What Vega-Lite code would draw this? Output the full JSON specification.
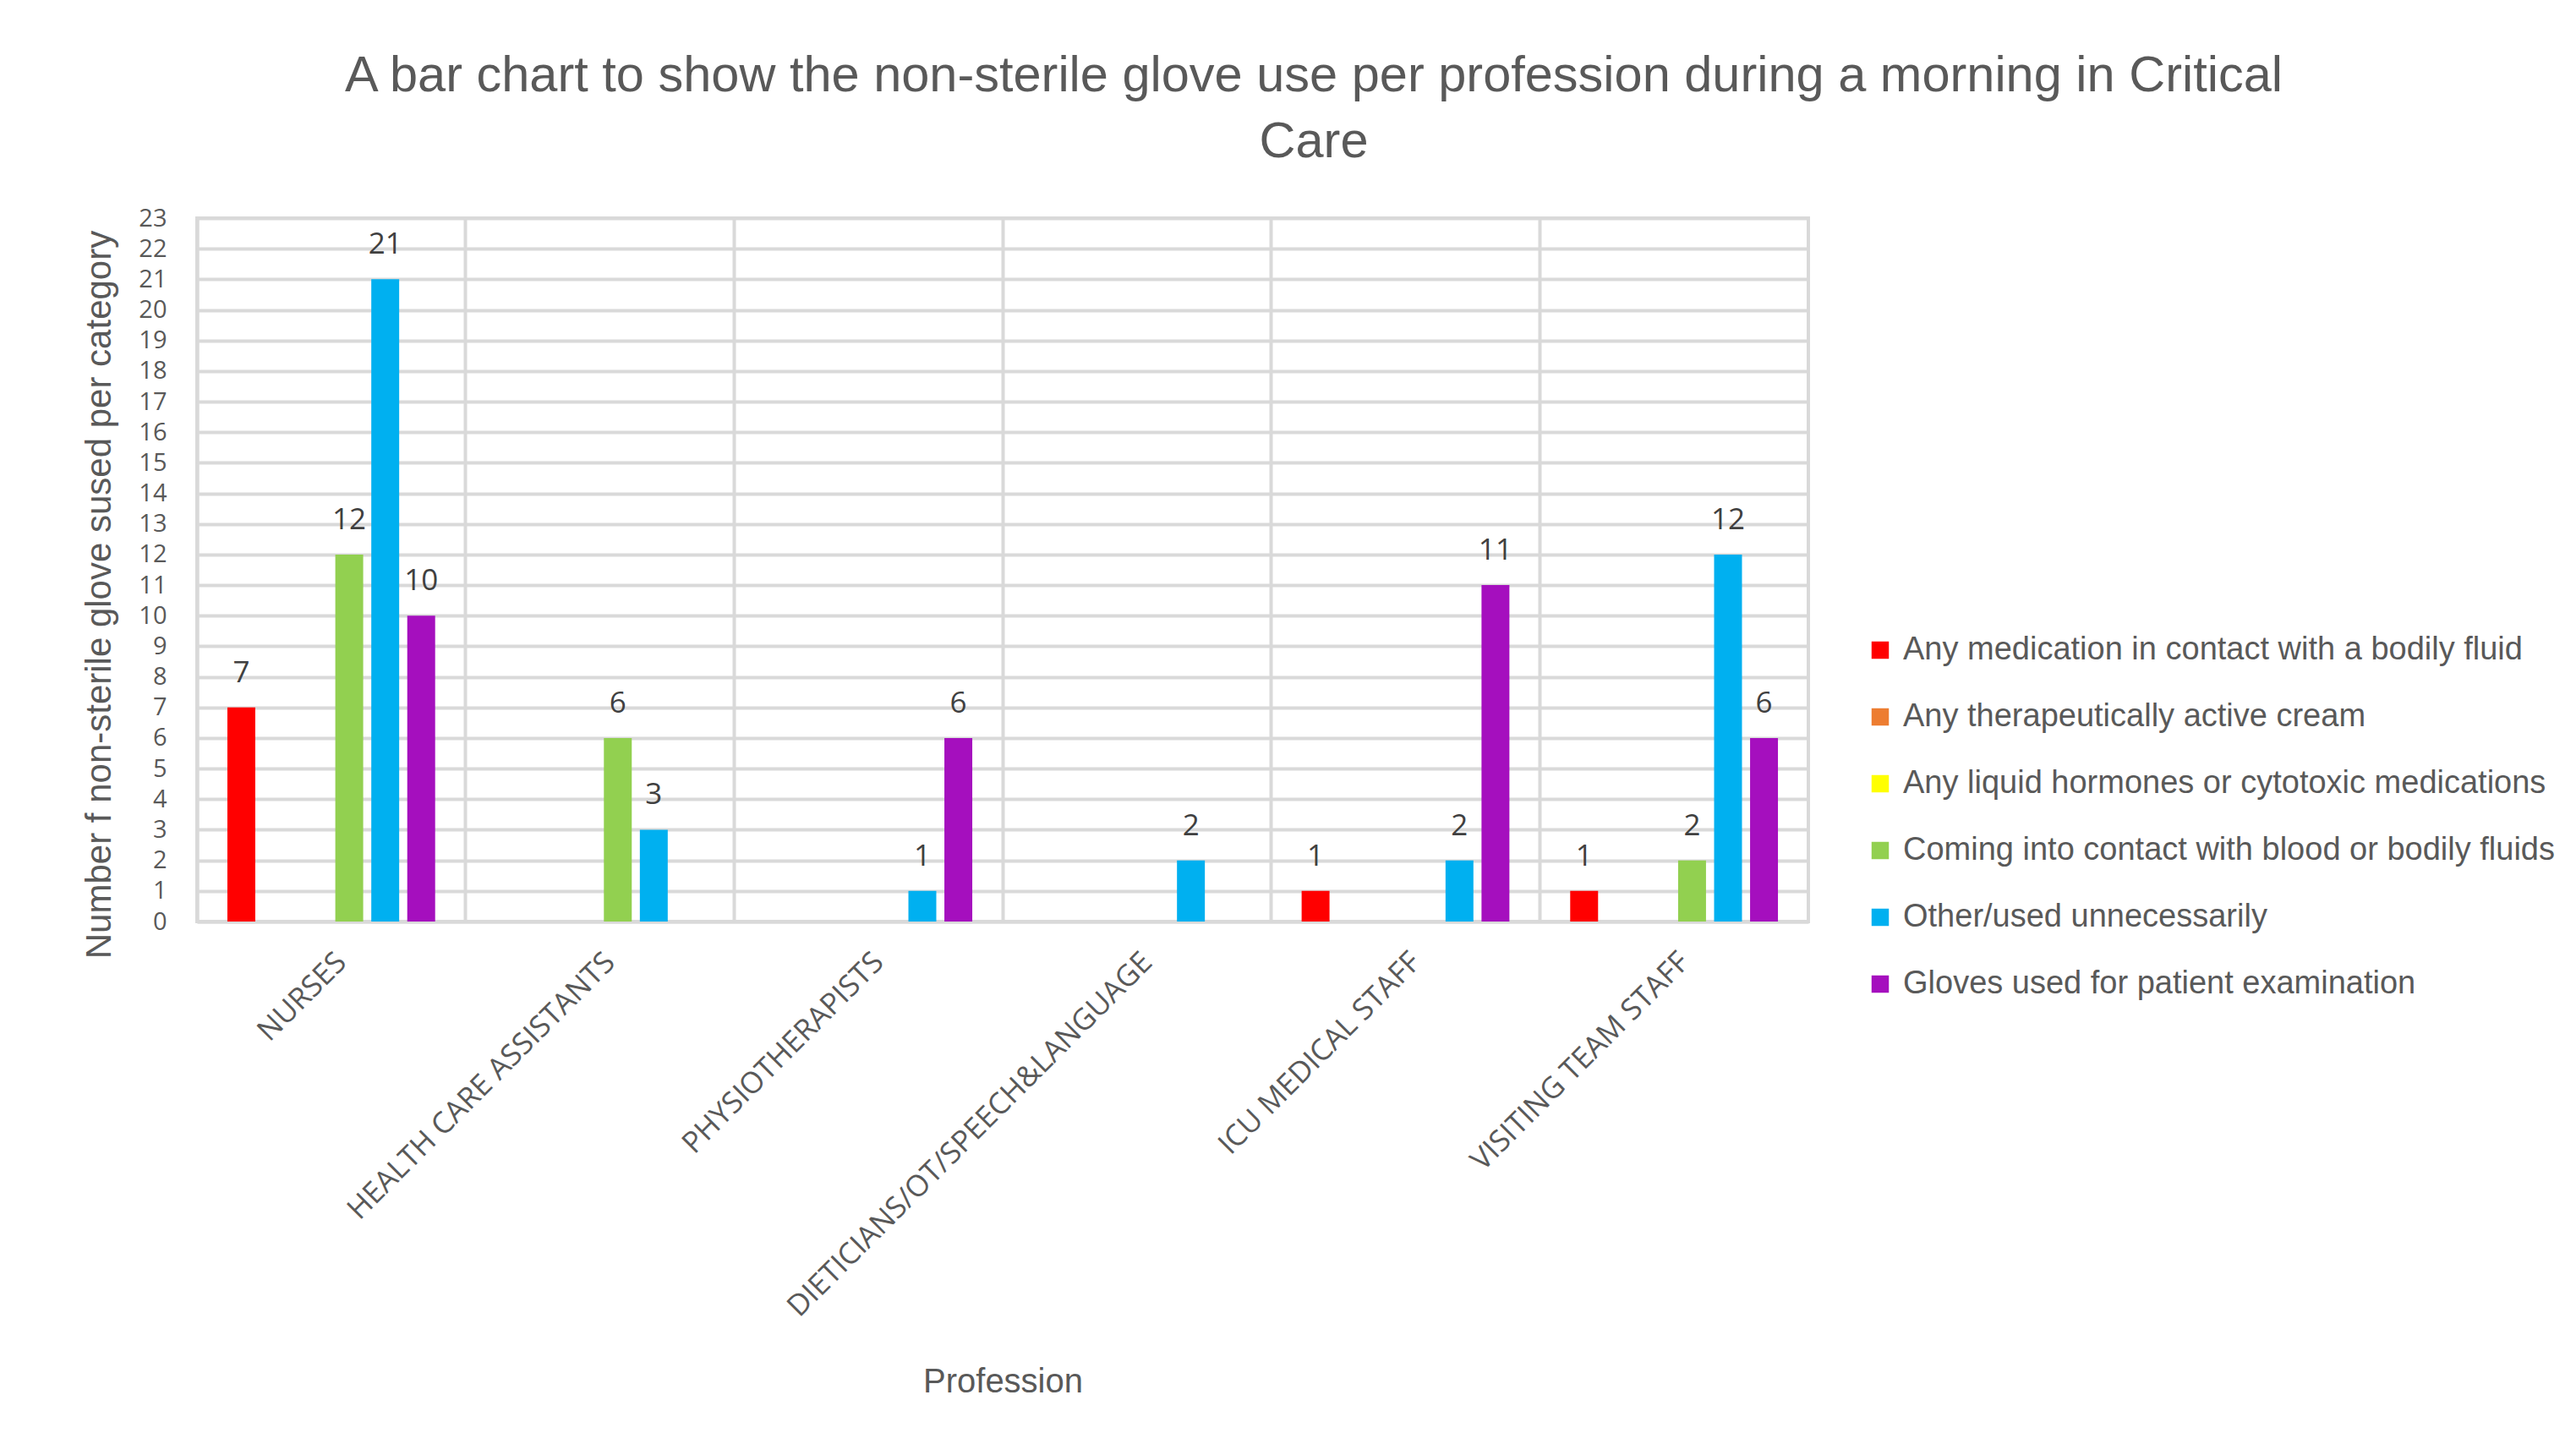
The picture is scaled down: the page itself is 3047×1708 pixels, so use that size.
{
  "$schema": "https://vega.github.io/schema/vega-lite/v6.json",
  "width": 1906,
  "height": 832,
  "autosize": {"type": "none"},
  "padding": {"left": 233, "top": 258, "right": 908, "bottom": 618},
  "background": "white",
  "title": {
    "text": ["A bar chart to show the non-sterile glove use per profession during a morning in Critical", "Care"],
    "anchor": "middle",
    "dx": 368,
    "fontSize": 59.5,
    "font": "Liberation Sans",
    "fontWeight": "normal",
    "color": "#595959",
    "offset": 46,
    "lineHeight": 78
  },
  "data": {
    "values": [
      {"profession": "NURSES", "category": "Any medication in contact with a bodily fluid", "value": 7},
      {"profession": "NURSES", "category": "Any therapeutically active cream", "value": 0},
      {"profession": "NURSES", "category": "Any liquid hormones or cytotoxic medications", "value": 0},
      {"profession": "NURSES", "category": "Coming into contact with blood or bodily fluids", "value": 12},
      {"profession": "NURSES", "category": "Other/used unnecessarily", "value": 21},
      {"profession": "NURSES", "category": "Gloves used for patient examination", "value": 10},
      {"profession": "HEALTH CARE ASSISTANTS", "category": "Any medication in contact with a bodily fluid", "value": 0},
      {"profession": "HEALTH CARE ASSISTANTS", "category": "Any therapeutically active cream", "value": 0},
      {"profession": "HEALTH CARE ASSISTANTS", "category": "Any liquid hormones or cytotoxic medications", "value": 0},
      {"profession": "HEALTH CARE ASSISTANTS", "category": "Coming into contact with blood or bodily fluids", "value": 6},
      {"profession": "HEALTH CARE ASSISTANTS", "category": "Other/used unnecessarily", "value": 3},
      {"profession": "HEALTH CARE ASSISTANTS", "category": "Gloves used for patient examination", "value": 0},
      {"profession": "PHYSIOTHERAPISTS", "category": "Any medication in contact with a bodily fluid", "value": 0},
      {"profession": "PHYSIOTHERAPISTS", "category": "Any therapeutically active cream", "value": 0},
      {"profession": "PHYSIOTHERAPISTS", "category": "Any liquid hormones or cytotoxic medications", "value": 0},
      {"profession": "PHYSIOTHERAPISTS", "category": "Coming into contact with blood or bodily fluids", "value": 0},
      {"profession": "PHYSIOTHERAPISTS", "category": "Other/used unnecessarily", "value": 1},
      {"profession": "PHYSIOTHERAPISTS", "category": "Gloves used for patient examination", "value": 6},
      {"profession": "DIETICIANS/OT/SPEECH&LANGUAGE", "category": "Any medication in contact with a bodily fluid", "value": 0},
      {"profession": "DIETICIANS/OT/SPEECH&LANGUAGE", "category": "Any therapeutically active cream", "value": 0},
      {"profession": "DIETICIANS/OT/SPEECH&LANGUAGE", "category": "Any liquid hormones or cytotoxic medications", "value": 0},
      {"profession": "DIETICIANS/OT/SPEECH&LANGUAGE", "category": "Coming into contact with blood or bodily fluids", "value": 0},
      {"profession": "DIETICIANS/OT/SPEECH&LANGUAGE", "category": "Other/used unnecessarily", "value": 2},
      {"profession": "DIETICIANS/OT/SPEECH&LANGUAGE", "category": "Gloves used for patient examination", "value": 0},
      {"profession": "ICU MEDICAL STAFF", "category": "Any medication in contact with a bodily fluid", "value": 1},
      {"profession": "ICU MEDICAL STAFF", "category": "Any therapeutically active cream", "value": 0},
      {"profession": "ICU MEDICAL STAFF", "category": "Any liquid hormones or cytotoxic medications", "value": 0},
      {"profession": "ICU MEDICAL STAFF", "category": "Coming into contact with blood or bodily fluids", "value": 0},
      {"profession": "ICU MEDICAL STAFF", "category": "Other/used unnecessarily", "value": 2},
      {"profession": "ICU MEDICAL STAFF", "category": "Gloves used for patient examination", "value": 11},
      {"profession": "VISITING TEAM STAFF", "category": "Any medication in contact with a bodily fluid", "value": 1},
      {"profession": "VISITING TEAM STAFF", "category": "Any therapeutically active cream", "value": 0},
      {"profession": "VISITING TEAM STAFF", "category": "Any liquid hormones or cytotoxic medications", "value": 0},
      {"profession": "VISITING TEAM STAFF", "category": "Coming into contact with blood or bodily fluids", "value": 2},
      {"profession": "VISITING TEAM STAFF", "category": "Other/used unnecessarily", "value": 12},
      {"profession": "VISITING TEAM STAFF", "category": "Gloves used for patient examination", "value": 6}
    ]
  },
  "encoding": {
    "x": {
      "field": "profession",
      "type": "nominal",
      "sort": null,
      "scale": {"paddingInner": 0, "paddingOuter": 0},
      "axis": {
        "title": "Profession",
        "titleFont": "Liberation Sans",
        "titleFontSize": 40,
        "titleFontWeight": "normal",
        "titleColor": "#595959",
        "titleBaseline": "middle",
        "titleY": 544,
        "labelAngle": -45,
        "labelFont": "Open Sans",
        "labelFontSize": 35,
        "labelColor": "#595959",
        "labelPadding": 30,
        "labelLimit": 1000,
        "ticks": false,
        "domainColor": "#d9d9d9",
        "domainWidth": 4,
        "grid": true,
        "bandPosition": 0,
        "gridColor": "#d9d9d9",
        "gridWidth": 4
      }
    },
    "xOffset": {
      "field": "category",
      "type": "nominal",
      "sort": null,
      "scale": {
        "domain": ["Any medication in contact with a bodily fluid", "Any therapeutically active cream", "Any liquid hormones or cytotoxic medications", "Coming into contact with blood or bodily fluids", "Other/used unnecessarily", "Gloves used for patient examination"],
        "paddingInner": 0.225,
        "paddingOuter": 0.845
      }
    },
    "y": {
      "field": "value",
      "type": "quantitative",
      "scale": {"domain": [0, 23], "nice": false},
      "axis": {
        "title": "Number f non-sterile glove sused per category",
        "titleFont": "Liberation Sans",
        "titleFontSize": 42,
        "titleFontWeight": "normal",
        "titleColor": "#595959",
        "titleAngle": 270,
        "titleBaseline": "middle",
        "titleX": -116,
        "titleY": 445,
        "values": [0,1,2,3,4,5,6,7,8,9,10,11,12,13,14,15,16,17,18,19,20,21,22,23],
        "labelFont": "Open Sans",
        "labelFontSize": 29,
        "labelColor": "#595959",
        "labelPadding": 36,
        "ticks": false,
        "domainColor": "#d9d9d9",
        "domainWidth": 4,
        "gridColor": "#d9d9d9",
        "gridWidth": 4
      }
    }
  },
  "layer": [
    {
      "mark": {"type": "bar"},
      "encoding": {
        "color": {
          "field": "category",
          "type": "nominal",
          "scale": {
            "domain": ["Any medication in contact with a bodily fluid", "Any therapeutically active cream", "Any liquid hormones or cytotoxic medications", "Coming into contact with blood or bodily fluids", "Other/used unnecessarily", "Gloves used for patient examination"],
            "range": ["#ff0000", "#ed7d31", "#ffff00", "#92d050", "#00b0f0", "#a50fbe"]
          },
          "legend": {
            "title": null,
            "orient": "none",
            "legendX": 1972,
            "legendY": 492,
            "symbolType": "square",
            "symbolSize": 420,
            "symbolStrokeWidth": 0,
            "labelFont": "Liberation Sans",
            "labelFontSize": 38,
            "labelColor": "#595959",
            "labelLimit": 1000,
            "labelOffset": 8,
            "rowPadding": 41
          }
        }
      }
    },
    {
      "transform": [{"filter": "datum.value > 0"}],
      "mark": {"type": "text", "baseline": "alphabetic", "dy": -30, "font": "Open Sans", "fontSize": 35, "color": "#404040"},
      "encoding": {
        "text": {"field": "value", "type": "quantitative"}
      }
    }
  ],
  "config": {
    "view": {"stroke": "#d9d9d9", "strokeWidth": 4}
  }
}
